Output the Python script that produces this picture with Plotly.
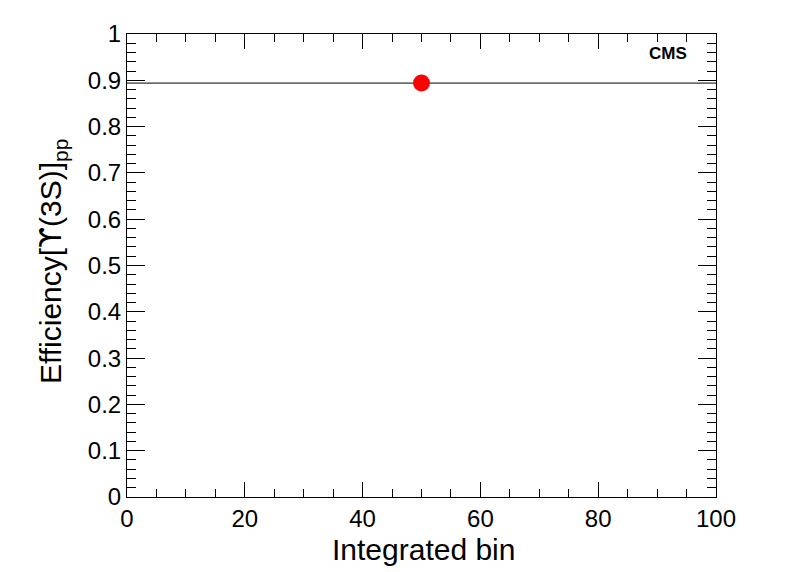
import plotly.graph_objects as go

# Data
bin_x = [50]
efficiency = [0.894]
line_x = [0, 100]
line_y = [efficiency[0], efficiency[0]]

FONT = "Liberation Sans, Arial, Helvetica, sans-serif"

fig = go.Figure()
fig.add_trace(go.Scatter(x=line_x, y=line_y, mode="lines",
                         line=dict(color="black", width=1), showlegend=False,
                         hoverinfo="skip"))
fig.add_trace(go.Scatter(x=bin_x, y=efficiency, mode="markers",
                         marker=dict(color="red", size=17, line=dict(width=0)),
                         showlegend=False))

fig.update_layout(
    width=796, height=572,
    margin=dict(l=119, r=88, t=23, b=83),
    plot_bgcolor="white", paper_bgcolor="white",
    font=dict(family=FONT, color="black"),
    xaxis=dict(range=[0, 100], dtick=20, tick0=0, ticks="inside", ticklen=15,
               tickwidth=1, tickcolor="black", showline=True, linecolor="black",
               linewidth=1, mirror="allticks", showgrid=False, zeroline=False,
               tickfont=dict(size=24, family=FONT),
               minor=dict(dtick=5, ticks="inside", ticklen=8, tickcolor="black",
                          showgrid=False)),
    yaxis=dict(range=[0, 1], dtick=0.1, tick0=0, ticks="inside", ticklen=18,
               tickwidth=1, tickcolor="black", showline=True, linecolor="black",
               linewidth=1, mirror="allticks", showgrid=False, zeroline=False,
               tickfont=dict(size=24, family=FONT),
               minor=dict(dtick=0.02, ticks="inside", ticklen=9, tickcolor="black",
                          showgrid=False)),
    annotations=[
        dict(text="Integrated bin", xref="paper", yref="paper",
             x=0.503, y=-0.113, xanchor="center", yanchor="middle",
             showarrow=False, font=dict(size=30, family=FONT)),
        dict(text="Efficiency[<span style=\"font-family:'DejaVu Sans'\">ϒ</span>(3S)]<sub>pp</sub>",
             xref="paper", yref="paper",
             x=-0.127, y=0.51, xanchor="center", yanchor="middle", textangle=-90,
             showarrow=False, font=dict(size=30, family=FONT)),
        dict(text="<b>CMS</b>", xref="paper", yref="paper",
             x=0.954, y=0.958, xanchor="right", yanchor="middle",
             showarrow=False, font=dict(size=17, family=FONT)),
    ],
)

fig.write_html("out.html")
